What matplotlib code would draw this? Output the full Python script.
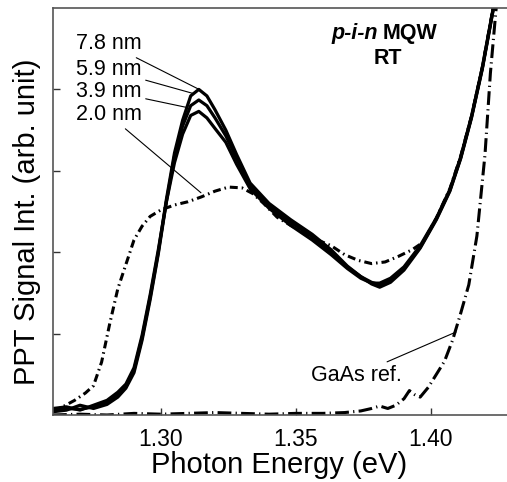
import matplotlib
matplotlib.use("Agg")
import matplotlib.pyplot as plt

plt.rcParams['font.family'] = ['Liberation Sans', 'DejaVu Sans']

# ---- data ----
x_qw = [1.260, 1.265, 1.270, 1.275, 1.280, 1.284, 1.287, 1.290, 1.293, 1.296,
        1.299, 1.302, 1.305, 1.308, 1.311, 1.314, 1.317, 1.320, 1.324, 1.328,
        1.333, 1.340, 1.348, 1.356, 1.363, 1.369, 1.374, 1.378, 1.381, 1.385,
        1.390, 1.396, 1.402, 1.407, 1.411, 1.415, 1.419, 1.423, 1.426]

y_78 = [0.05, 0.08, 0.07, 0.10, 0.15, 0.25, 0.35, 0.55, 0.95, 1.45,
        2.00, 2.65, 3.22, 3.62, 3.92, 4.00, 3.92, 3.75, 3.50, 3.20,
        2.85, 2.60, 2.40, 2.22, 2.03, 1.83, 1.70, 1.61, 1.57, 1.63,
        1.78, 2.05, 2.40, 2.75, 3.15, 3.65, 4.25, 4.97, 5.50]

y_59 = [0.04, 0.06, 0.12, 0.08, 0.13, 0.22, 0.33, 0.52, 0.92, 1.42,
        1.98, 2.62, 3.18, 3.55, 3.80, 3.87, 3.80, 3.65, 3.43, 3.15,
        2.82, 2.57, 2.37, 2.19, 2.00, 1.82, 1.70, 1.63, 1.60, 1.65,
        1.80, 2.06, 2.41, 2.76, 3.16, 3.66, 4.26, 4.98, 5.50]

y_39 = [0.08, 0.10, 0.06, 0.12, 0.18, 0.28, 0.38, 0.58, 0.98, 1.48,
        2.03, 2.62, 3.10, 3.45, 3.68, 3.73, 3.65, 3.52, 3.35, 3.08,
        2.78, 2.54, 2.33, 2.15, 1.97, 1.80, 1.68, 1.62, 1.62, 1.68,
        1.82, 2.08, 2.42, 2.77, 3.17, 3.67, 4.27, 4.99, 5.50]

x_20 = [1.260, 1.263, 1.268, 1.272, 1.275, 1.278, 1.281, 1.284, 1.287, 1.290,
        1.293, 1.296, 1.300, 1.305, 1.310, 1.315, 1.320, 1.325, 1.330, 1.334,
        1.338, 1.343, 1.348, 1.353, 1.358, 1.363, 1.368, 1.373, 1.378, 1.383,
        1.388, 1.393, 1.397, 1.402, 1.407, 1.411, 1.415, 1.419, 1.423]
y_20 = [0.05, 0.09, 0.18, 0.27, 0.36, 0.65, 1.12, 1.55, 1.85, 2.15,
        2.32, 2.44, 2.52, 2.58, 2.62, 2.68, 2.75, 2.80, 2.79, 2.72,
        2.60, 2.43, 2.33, 2.24, 2.15, 2.08, 1.97, 1.90, 1.86, 1.88,
        1.95, 2.03, 2.12, 2.42, 2.78, 3.18, 3.67, 4.27, 5.00]

x_gaas = [1.260, 1.270, 1.280, 1.290, 1.300, 1.310, 1.320, 1.330, 1.340, 1.350,
          1.360, 1.368, 1.374, 1.378, 1.381, 1.384, 1.387, 1.390, 1.392, 1.394,
          1.396, 1.399, 1.402, 1.405, 1.408, 1.411, 1.414, 1.417, 1.420, 1.422,
          1.424, 1.426]
y_gaas = [0.00, 0.01, 0.00, 0.02, 0.01, 0.02, 0.03, 0.02, 0.01, 0.02,
          0.02, 0.03, 0.05, 0.08, 0.11, 0.08, 0.12, 0.20, 0.30, 0.25,
          0.22, 0.34, 0.50, 0.66, 0.92, 1.25, 1.60, 2.20, 3.20, 4.20,
          4.95, 5.60]

qw_labels = ["7.8 nm", "5.9 nm", "3.9 nm", "2.0 nm"]
label_text_y = [4.56, 4.24, 3.98, 3.69]
label_tip_x = [1.3141, 1.3119, 1.3093, 1.3148]
label_tip_y = [4.00, 3.95, 3.78, 2.73]

xticks = [1.30, 1.35, 1.40]
xtick_labels = ["1.30", "1.35", "1.40"]
yticks = [1, 2, 3, 4]

# ---- figure ----
W, H = 507, 482
fig = plt.figure(figsize=(W / 100, H / 100), dpi=100)
ax = fig.add_axes([53 / W, (H - 415) / H, (512 - 53) / W, (415 - 8) / H])
ax.set_xlim(1.26, 1.43)
ax.set_ylim(0, 5)

ax.plot(x_gaas, y_gaas, color='black', lw=2.2, linestyle=(0, (4.5, 1.4, 0.4, 1.4)))
ax.plot(x_20, y_20, color='black', lw=2.2, linestyle=(0, (2.6, 1.3, 0.5, 1.3)))
for yy in (y_39, y_59, y_78):
    ax.plot(x_qw, yy, color='black', lw=2.3, solid_joinstyle='round')

for lab, ty, tx, tyy in zip(qw_labels, label_text_y, label_tip_x, label_tip_y):
    ax.annotate(lab, xy=(tx, tyy), xytext=(1.2928, ty), ha='right', va='center',
                fontsize=15.5,
                arrowprops=dict(arrowstyle='-', lw=0.8, color='black',
                                shrinkA=1, shrinkB=0))

ax.annotate("GaAs ref.", xy=(1.4093, 1.02), xytext=(1.3892, 0.49), ha='right',
            va='center', fontsize=15.5,
            arrowprops=dict(arrowstyle='-', lw=0.8, color='black',
                            shrinkA=0, shrinkB=0))

t1 = ax.text(331 / W, 1 - 39 / H, "p-i-n", transform=fig.transFigure,
             fontsize=15.5, fontweight='bold', fontstyle='italic',
             ha='left', va='baseline')
ax.annotate("MQW", xy=(1, 0), xycoords=t1, xytext=(4, 0),
            textcoords='offset points', fontsize=15.5, fontweight='bold',
            ha='left', va='bottom')
fig.text(388 / W, 1 - 64 / H, "RT", fontsize=15.5, fontweight='bold',
         ha='center', va='baseline')

ax.set_xticks(xticks)
ax.set_xticklabels(xtick_labels, fontsize=16.5)
ax.set_yticks(yticks)
ax.set_yticklabels([])
ax.tick_params(axis='both', direction='in', length=5, width=1.0,
               color='#333333', pad=9)

for s in ('left', 'bottom', 'top'):
    ax.spines[s].set_color('#555555')
    ax.spines[s].set_linewidth(1.2)
ax.spines['right'].set_visible(False)

fig.text(279.5 / W, 1 - 473 / H, "Photon Energy (eV)", fontsize=21,
         ha='center', va='baseline')
fig.text(35 / W, 1 - 222 / H, "PPT Signal Int. (arb. unit)", fontsize=21,
         rotation=90, rotation_mode='anchor', ha='center', va='baseline')

fig.savefig("out.png", dpi=100)
